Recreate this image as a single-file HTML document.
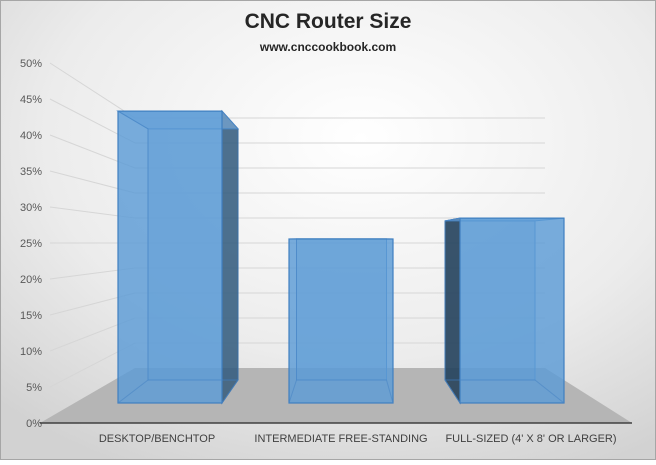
<!DOCTYPE html>
<html><head><meta charset="utf-8"><style>
html,body{margin:0;padding:0;}
body{width:656px;height:460px;overflow:hidden;font-family:"Liberation Sans",Arial,sans-serif;}
</style></head><body>
<svg id="chart" width="656" height="460" viewBox="0 0 656 460" xmlns="http://www.w3.org/2000/svg">
<defs>
<radialGradient id="bg" cx="0.55" cy="0.3" r="0.8">
<stop offset="0" stop-color="#ffffff"/><stop offset="0.6" stop-color="#ececec"/><stop offset="1" stop-color="#d2d2d2"/>
</radialGradient>
</defs>
<rect x="0.5" y="0.5" width="655" height="459" fill="url(#bg)" stroke="#a6a6a6"/>
<text x="328" y="28" text-anchor="middle" font-size="21" font-weight="bold" fill="#262626">CNC Router Size</text>
<text x="328" y="51" text-anchor="middle" font-size="12" font-weight="bold" fill="#262626">www.cnccookbook.com</text>
<polygon points="40,423 632,423 545,368 135,368" fill="#b5b5b5"/>
<g id="grid"></g>
<g id="bars"></g>
<line x1="40" y1="423" x2="632" y2="423" stroke="#404040" stroke-width="1.5"/>
<g id="labels"></g>
</svg>
<script>
const categories = ["DESKTOP/BENCHTOP", "INTERMEDIATE FREE-STANDING", "FULL-SIZED (4' X 8' OR LARGER)"];
const values = [42, 23.6, 26.6];
const tickValues = [0, 5, 10, 15, 20, 25, 30, 35, 40, 45, 50];
const tickLabels = ["0%", "5%", "10%", "15%", "20%", "25%", "30%", "35%", "40%", "45%", "50%"];

const NS = "http://www.w3.org/2000/svg";
const labelY = v => 423 - v * 7.2;   // left side labels (front edge)
const wallY = v => 368 - v * 5;      // back wall
const frontY = v => 403 - v * 6.95;  // bar front face
const backY = v => 380 - v * 5.98;   // bar back face
const frontX = i => 170 + i * 171;
const backX = i => 193 + i * 148.5;

function mk(tag, attrs, parent) {
  const e = document.createElementNS(NS, tag);
  for (const k in attrs) e.setAttribute(k, attrs[k]);
  parent.appendChild(e);
  return e;
}
const grid = document.getElementById('grid');
tickValues.forEach((v, k) => {
  const g = mk('g', {}, grid);
  
  
  if (v > 0) {
    mk('polyline', {points: `50,${labelY(v)} 135,${wallY(v)} 545,${wallY(v)}`, fill: 'none', stroke: '#d6d6d6', 'stroke-width': 1}, g);
  }
  const t = mk('text', {x: 42, y: labelY(v) + 4, 'text-anchor': 'end', 'font-size': 11, fill: '#595959'}, grid);
  
  
  t.textContent = tickLabels[k];
});

const bars = document.getElementById('bars');
values.forEach((v, i) => {
  const g = mk('g', {}, bars);
  
  
  const fx0 = frontX(i) - 52, fx1 = frontX(i) + 52;
  const bx0 = backX(i) - 45, bx1 = backX(i) + 45;
  const ft = frontY(v), fb = frontY(0), bt = backY(v), bb = backY(0);
  // back face
  mk('rect', {x: bx0, y: bt, width: bx1 - bx0, height: bb - bt, fill: '#5b9bd5', 'fill-opacity': 0.35, stroke: '#4a86c5', 'stroke-width': 1}, g);
  // side faces
  if (bx1 > fx1) mk('polygon', {points: `${fx1},${ft} ${bx1},${bt} ${bx1},${bb} ${fx1},${fb}`, fill: '#2f5677', 'fill-opacity': 0.8, stroke: '#3a6fa5'}, g);
  if (bx0 < fx0) mk('polygon', {points: `${fx0},${ft} ${bx0},${bt} ${bx0},${bb} ${fx0},${fb}`, fill: '#203c55', 'fill-opacity': 0.85, stroke: '#3a6fa5'}, g);
  // top
  mk('polygon', {points: `${fx0},${ft} ${fx1},${ft} ${bx1},${bt} ${bx0},${bt}`, fill: '#7aaee0', 'fill-opacity': 0.6, stroke: '#4a86c5'}, g);
  // front face
  mk('rect', {x: fx0, y: ft, width: fx1 - fx0, height: fb - ft, fill: '#5b9bd5', 'fill-opacity': 0.82, stroke: '#3f7fc0', 'stroke-width': 1.2}, g);
  // inner edges
  mk('polyline', {points: `${fx0},${ft} ${bx0},${bt} ${bx0},${bb} ${fx0},${fb}`, fill: 'none', stroke: '#4a86c5', 'stroke-opacity': 0.6}, g);
  mk('polyline', {points: `${bx0},${bb} ${bx1},${bb} ${fx1},${fb}`, fill: 'none', stroke: '#4a86c5', 'stroke-opacity': 0.6}, g);
});

const labels = document.getElementById('labels');
categories.forEach((c, i) => {
  const t = mk('text', {x: [157, 341, 532][0] + 0 + (i === 0 ? 0 : 0), y: 442, 'text-anchor': 'middle', 'font-size': 11, fill: '#404040'}, labels);
  t.setAttribute('x', 157 + i * 184 - (i === 2 ? 0 : 0) + (i === 2 ? 6 : 0));
  
  
  t.textContent = c;
});
</script>
</body></html>
